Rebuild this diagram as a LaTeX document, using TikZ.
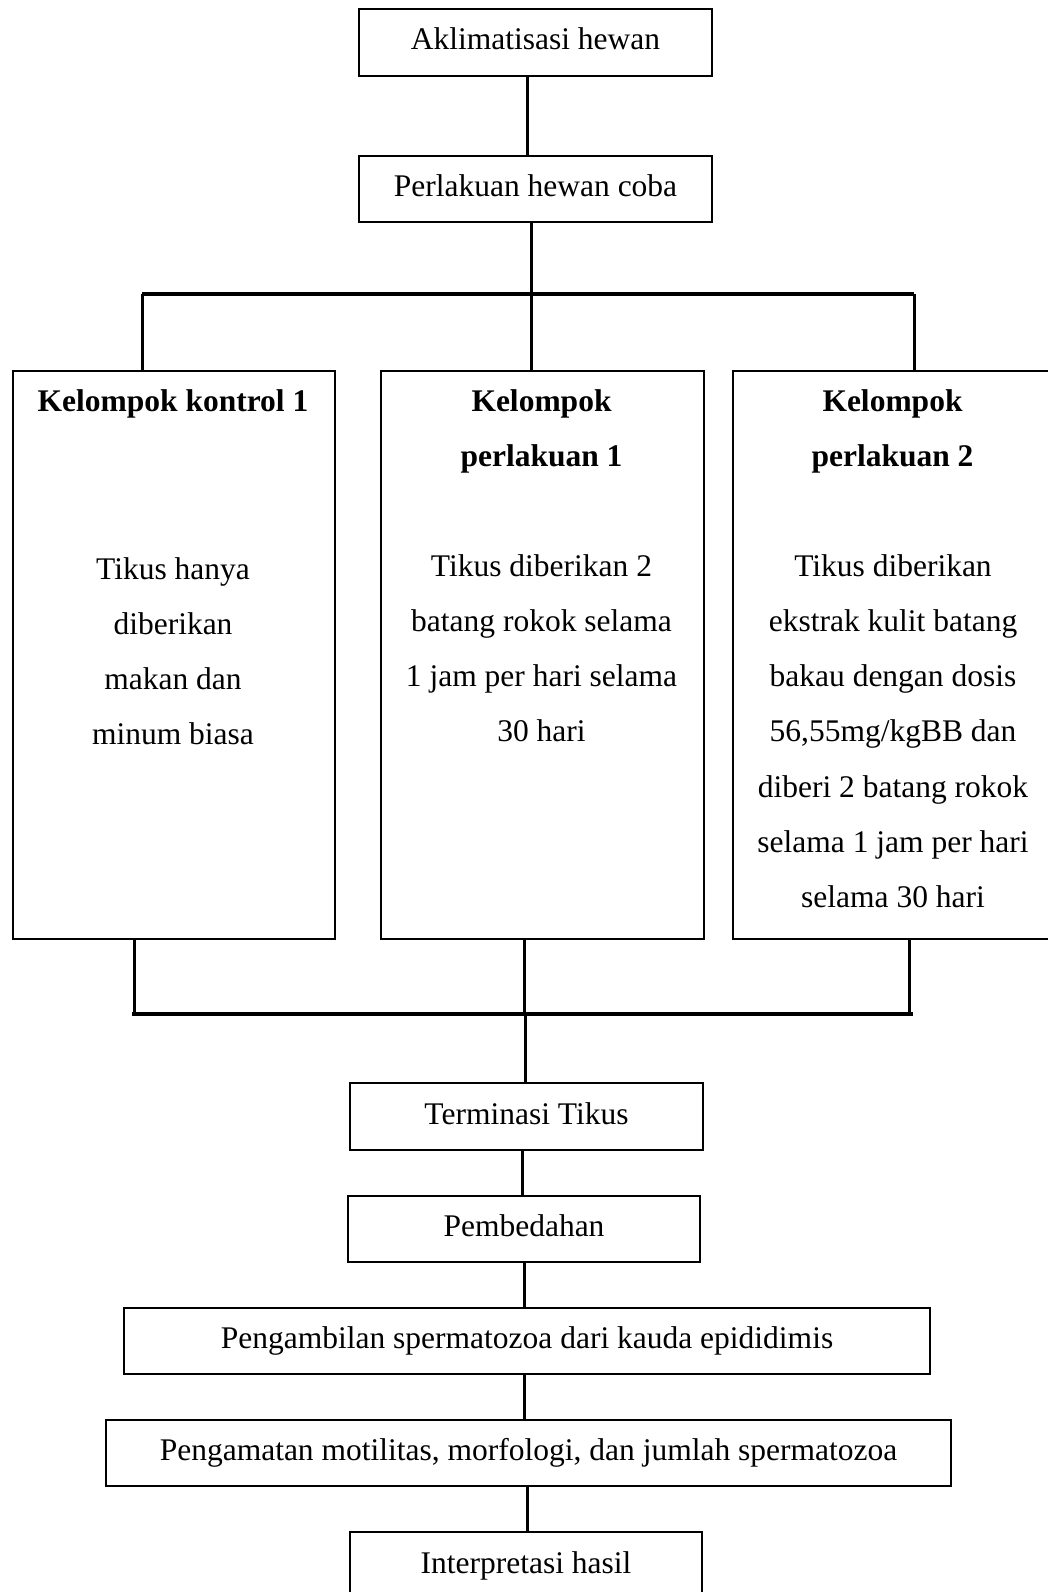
\documentclass[tikz,border=0pt]{standalone}
\usepackage{fontspec}
\setmainfont{Liberation Serif}
\usetikzlibrary{calc}
\newcommand\diagfont{\fontsize{31.5}{55.5}\selectfont}
\begin{document}
\begin{tikzpicture}[x=1pt,y=-1pt,
  every node/.style={font=\diagfont},
  box/.style={draw, line width=2pt, inner sep=0pt, text height=22pt, text depth=7pt},
  grp/.style={draw, line width=2pt, inner sep=0pt, anchor=north west, minimum height=568pt},
  txt/.style={inner sep=0pt, anchor=base},
  title/.style={txt, font=\diagfont\bfseries},
  link/.style={line width=3pt},
  bar/.style={line width=4pt}]
\clip (0,0) rectangle (1048,1592);
\fill[white] (0,0) rectangle (1048,1592);

% upper chain
\node[box, minimum width=353pt, minimum height=67pt] (b1) at (535.5,42.5) {Aklimatisasi hewan};
\node[box, minimum width=353pt, minimum height=66pt] (b2) at (535.5,189) {Perlakuan hewan coba};

% the three groups
\node[grp, minimum width=322pt] (g1) at (12,370) {};
\node[grp, minimum width=323pt] (g2) at (380,370) {};
\node[grp, minimum width=321pt] (g3) at (732,370) {};

\node[title] (t1) at (173,411) {Kelompok kontrol 1};
\node[title] (t2a) at (541.5,411) {Kelompok};
\node[title] (t2b) at (541.5,466.5) {perlakuan 1};
\node[title] (t3a) at (892.5,411) {Kelompok};
\node[title] (t3b) at (892.5,466.5) {perlakuan 2};

\foreach \s [count=\i from 0] in {Tikus hanya, diberikan, makan dan, minum biasa}
  \node[txt] (a\i) at (173, 579+55.3*\i) {\s};
\foreach \s [count=\i from 0] in {Tikus diberikan 2, batang rokok selama, 1 jam per hari selama, 30 hari}
  \node[txt] (p\i) at (541.5, 576+55.3*\i) {\s};
\foreach \s [count=\i from 0] in {Tikus diberikan, ekstrak kulit batang, bakau dengan dosis, {56,55mg/kgBB dan}, diberi 2 batang rokok, selama 1 jam per hari, selama 30 hari}
  \node[txt] (q\i) at (893, 576+55.3*\i) {\s};

% lower chain
\node[box, minimum width=353pt, minimum height=67pt] (b3) at (526.5,1116.5) {Terminasi Tikus};
\node[box, minimum width=352pt, minimum height=66pt] (b4) at (524,1229) {Pembedahan};
\node[box, minimum width=806pt, minimum height=66pt] (b5) at (527,1341) {Pengambilan spermatozoa dari kauda epididimis};
\node[box, minimum width=845pt, minimum height=66pt] (b6) at (528.5,1453) {Pengamatan motilitas, morfologi, dan jumlah spermatozoa};
\node[box, minimum width=352pt, minimum height=67pt] (b7) at (526,1565.5) {Interpretasi hasil};

% connectors above the groups
\coordinate (tl) at (142,294);
\coordinate (tr) at (914,294);
\draw[link] (b1.south -| 527,0) -- (b2.north -| 527,0);
\draw[link] (b2.south -| 531,0) -- (g2.north -| 531,0);
\draw[bar] (tl) -- (tr);
\draw[link] (tl) -- (g1.north -| tl);
\draw[link] (tr) -- (g3.north -| tr);

% connectors below the groups
\coordinate (bl) at (132,1014);
\coordinate (br) at (913,1014);
\draw[link] (g1.south -| 134,0) -- (bl -| 134,0);
\draw[link] (g2.south -| 524,0) -- (bl -| 524,0);
\draw[link] (g3.south -| 909,0) -- (bl -| 909,0);
\draw[bar] (bl) -- (br);
\draw[link] (bl -| 525,0) -- (b3.north -| 525,0);

\draw[link] (b3.south -| 522,0) -- (b4.north -| 522,0);
\draw[link] (b4.south -| 524,0) -- (b5.north -| 524,0);
\draw[link] (b5.south -| 524,0) -- (b6.north -| 524,0);
\draw[link] (b6.south -| 527,0) -- (b7.north -| 527,0);
\end{tikzpicture}
\end{document}
